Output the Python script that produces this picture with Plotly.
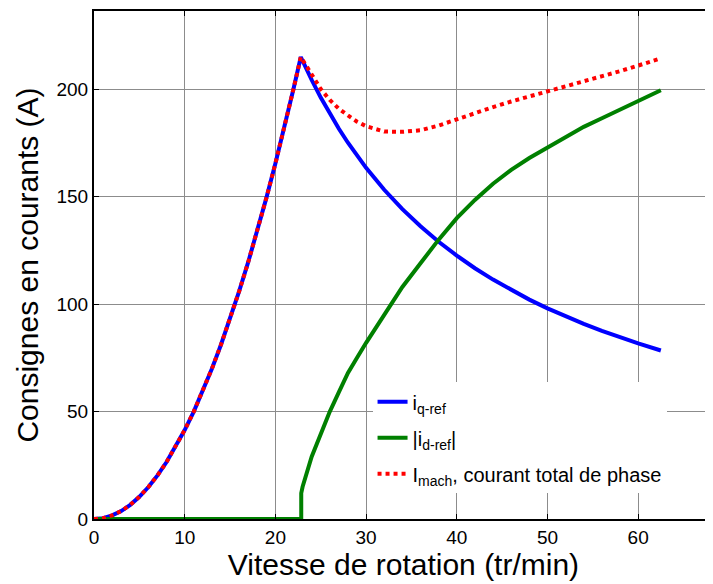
import plotly.graph_objects as go

# Rising part (common to i_q-ref and I_mach)
x_rise = [0, 1, 2, 3, 4, 5, 6, 7, 8, 9, 10, 11, 12, 13, 14, 15, 16, 17, 18, 19, 20, 21, 22, 22.8]
iq_rise = [0, 0.4, 1.7, 3.7, 6.6, 10.3, 14.9, 20.3, 26.5, 33.5, 41.4, 50.0, 59.6, 69.9, 81.1,
           93.1, 105.9, 119.5, 134.0, 149.3, 165.4, 182.4, 200.2, 215.0]

# Field-weakening part
x_fw = [23, 24, 25, 26, 27, 28, 29, 30, 32, 34, 36, 38, 40, 42, 44, 46, 48, 50, 52, 54, 56, 58, 60, 62.5]
iq_fw = [213.1, 204.3, 196.1, 188.5, 181.6, 175.1, 169.0, 163.4, 153.2, 144.2, 136.2, 129.0, 122.6,
         116.7, 111.4, 106.6, 102.1, 98.0, 94.3, 90.8, 87.5, 84.5, 81.7, 78.4]
id_fw = [15, 29, 40, 50, 59, 68, 75, 82, 95, 108, 119, 130, 140, 148.5, 156, 162.5, 168, 173,
         178, 182.5, 186.5, 190.5, 194.5, 199.5]
imach_fw = [213.6, 206.3, 200.1, 195.0, 190.9, 187.8, 184.9, 182.8, 180.3, 180.2, 180.9, 183.1,
            186.1, 188.9, 191.7, 194.3, 196.6, 198.8, 201.4, 203.8, 206.0, 208.4, 211.0, 214.4]

# |i_d-ref| is zero until the step
x_id_zero = [0, 22.85, 22.85]
id_zero = [0, 0, 12]

x_ticks = [0, 10, 20, 30, 40, 50, 60]
y_ticks = [0, 50, 100, 150, 200]

x_q = x_rise + x_fw
y_q = iq_rise + iq_fw
x_d = x_id_zero + x_fw
y_d = id_zero + id_fw
x_m = x_rise + x_fw
y_m = iq_rise + imach_fw

font = "Arial, Liberation Sans, sans-serif"

fig = go.Figure()
fig.add_trace(go.Scatter(x=x_q, y=y_q, mode="lines", name="i<sub>q-ref</sub>",
                         legendgroup="q",
                         line=dict(color="#0000FF", width=4)))
fig.add_trace(go.Scatter(x=x_d, y=y_d, mode="lines", name="|i<sub>d-ref</sub>|",
                         legendgroup="d",
                         line=dict(color="#008000", width=4)))
fig.add_trace(go.Scatter(x=x_m, y=y_m, mode="lines",
                         name="I<sub>mach</sub>, courant total de phase",
                         legendgroup="m",
                         line=dict(color="#FF0000", width=4, dash="dot")))

fig.update_layout(
    width=705, height=576,
    margin=dict(l=86, r=0, t=3, b=65),
    paper_bgcolor="white", plot_bgcolor="white",
    font=dict(family=font, size=19, color="black"),
    showlegend=True,
    legend=dict(x=0.45, y=0.269, xanchor="left", yanchor="top",
                bgcolor="white", borderwidth=0, font=dict(size=20),
                tracegroupgap=7),
    xaxis=dict(range=[0, 68.25], tickvals=x_ticks,
               showgrid=True, gridcolor="#8c8c8c", gridwidth=1,
               showline=True, linecolor="black", linewidth=2, mirror="ticks",
               ticks="inside", ticklen=5, tickcolor="black",
               zeroline=False,
               title=dict(text="Vitesse de rotation (tr/min)", font=dict(size=30), standoff=3)),
    yaxis=dict(range=[0, 236.4], tickvals=y_ticks,
               showgrid=True, gridcolor="#8c8c8c", gridwidth=1,
               showline=True, linecolor="black", linewidth=2, mirror=False,
               ticks="inside", ticklen=5, tickcolor="black",
               zeroline=False,
               title=dict(text="Consignes en courants (A)", font=dict(size=30), standoff=9)),
)

fig.write_html("out.html")
